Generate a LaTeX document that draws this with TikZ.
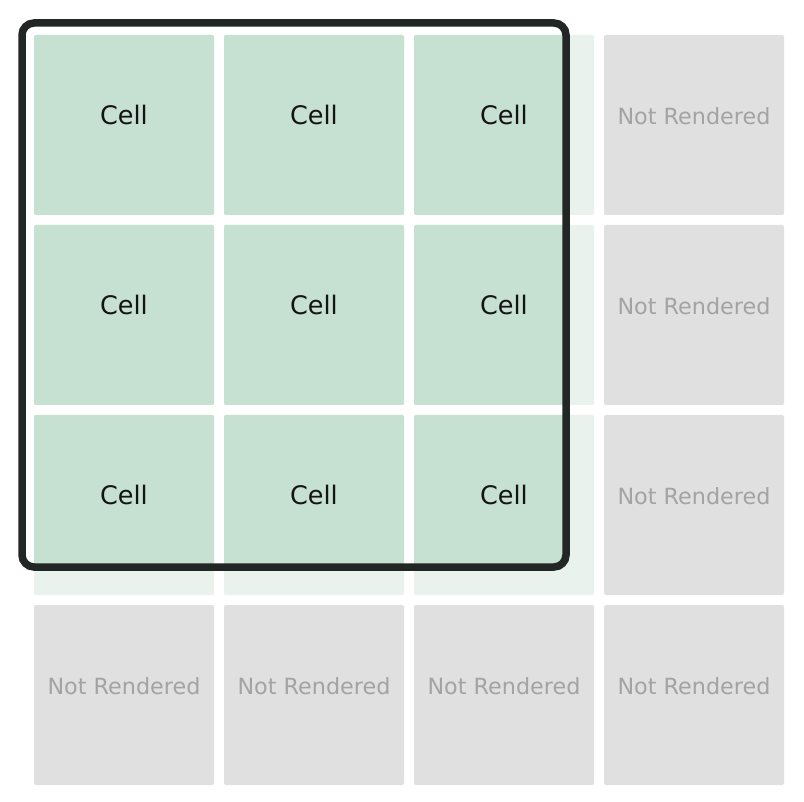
\documentclass[tikz,border=0pt]{standalone}
\usepackage{fontspec}
\setmainfont{DejaVu Sans}
\definecolor{cellgreen}{HTML}{C6E0D2}
\definecolor{cellfaint}{HTML}{EAF2EE}
\definecolor{cellgrey}{HTML}{E0E0E0}
\definecolor{textgrey}{HTML}{A3A3A3}
\definecolor{frame}{HTML}{222624}
\begin{document}
\begin{tikzpicture}[x=1pt,y=-1pt,
  cellbox/.style={rounded corners=2pt},
  celltext/.style={anchor=base,font=\fontsize{25.5}{26}\selectfont,text=black!92},
  nrtext/.style={anchor=base,font=\fontsize{22.3}{23}\selectfont,text=textgrey},
  viewport/.style={draw=frame,line width=7.5pt,rounded corners=12pt}]
\useasboundingbox (0,0) rectangle (804,802);
\fill[white] (0,0) rectangle (804,802);
% all cells
\foreach \i in {0,...,3}{
  \foreach \j in {0,...,3}{
    \pgfmathtruncatemacro{\inside}{(\i<3)&&(\j<3)}
    \ifnum\inside=1
      \fill[cellfaint,cellbox] ({34+190*\i},{35+190*\j}) rectangle ++(180,180);
    \else
      \fill[cellgrey,cellbox] ({34+190*\i},{35+190*\j}) rectangle ++(180,180);
    \fi
  }
}
% rendered part inside viewport
\begin{scope}
  \clip[rounded corners=12pt] (22,23) rectangle (566,567);
  \foreach \i in {0,...,2}{
    \foreach \j in {0,...,2}{
      \fill[cellgreen,cellbox] ({34+190*\i},{35+190*\j}) rectangle ++(180,180);
    }
  }
\end{scope}
% labels
\foreach \i in {0,...,3}{
  \foreach \j in {0,...,3}{
    \pgfmathtruncatemacro{\inside}{(\i<3)&&(\j<3)}
    \ifnum\inside=1
      \node[celltext] (c\i\j) at ({124+190*\i},{124.3+190*\j}) {Cell};
    \else
      \node[nrtext] (c\i\j) at ({124+190*\i},{124.3+190*\j}) {Not Rendered};
    \fi
  }
}
% viewport frame
\draw[viewport] (22,23) rectangle (566,567);
\end{tikzpicture}
\end{document}
